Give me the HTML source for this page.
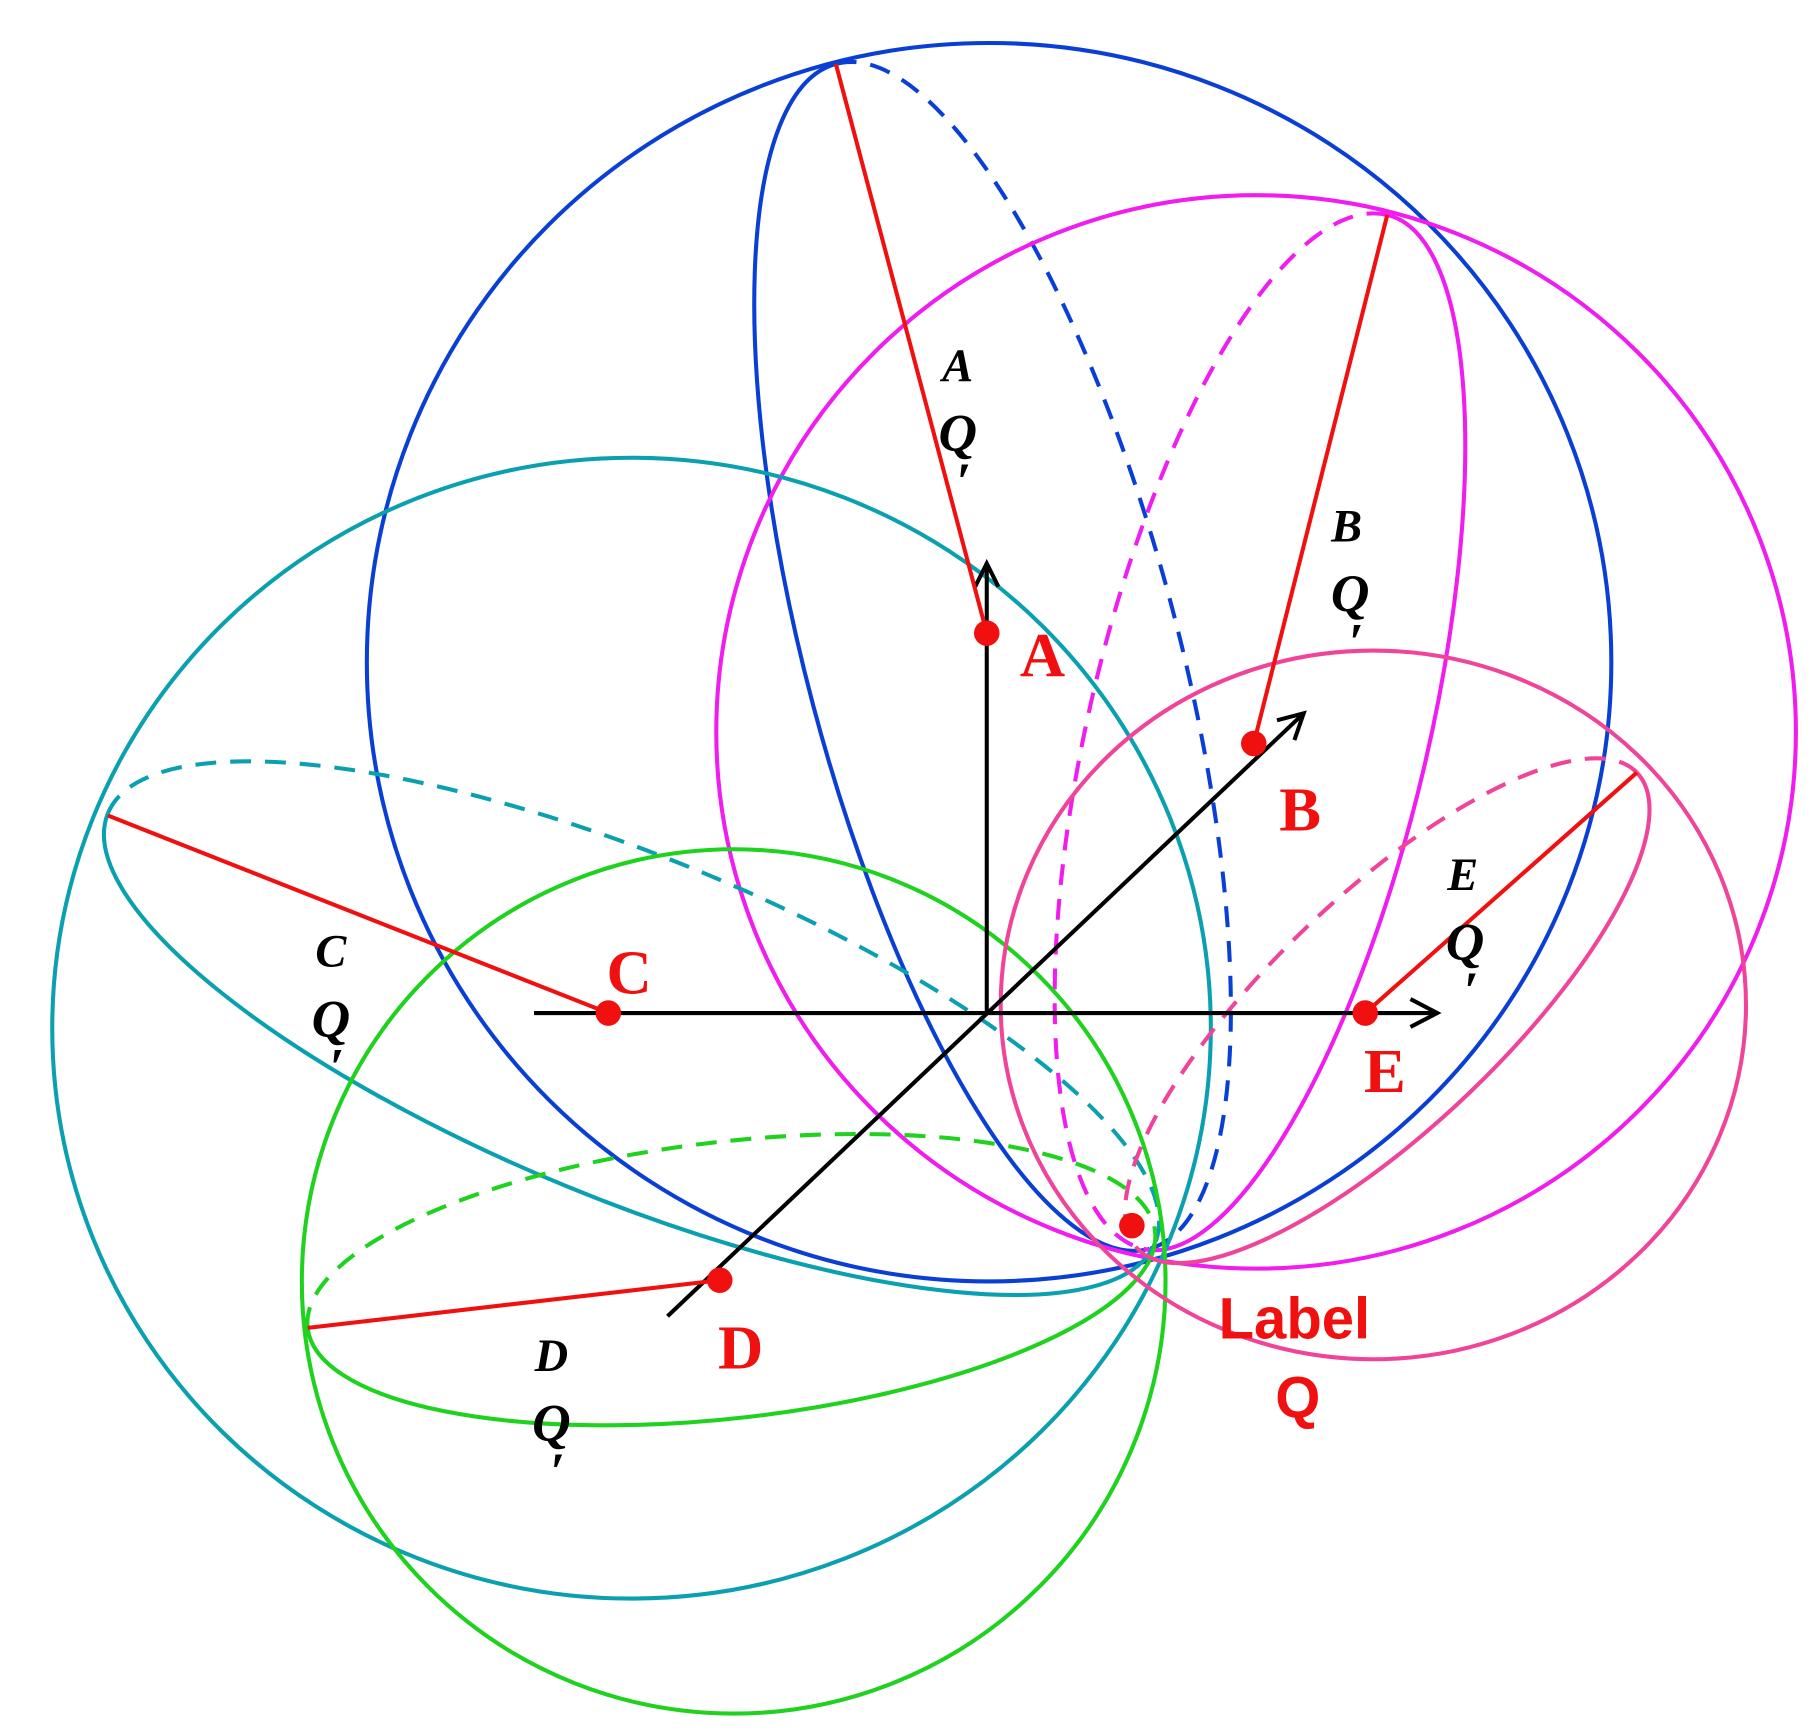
<!DOCTYPE html>
<html><head><style>html,body{margin:0;padding:0;background:#fff}svg{display:block}</style></head><body>
<svg width="1811" height="1731" viewBox="0 0 1560 1490" preserveAspectRatio="none" xmlns="http://www.w3.org/2000/svg">
<g fill="none" stroke-width="3.5">
<ellipse cx="852" cy="570" rx="536" ry="533" stroke="#0a3fd6"/>
<path d="M720 55 A527 160 75.2 0 0 990 1075" stroke="#0a3fd6"/>
<path d="M720 55 A527 160 75.2 0 1 990 1075" stroke="#0a3fd6" stroke-dasharray="18 12"/>
<ellipse cx="1082" cy="630" rx="465" ry="462" stroke="#f01cf0"/>
<path d="M1195 185 A457 140 103.3 0 1 985 1075" stroke="#f01cf0"/>
<path d="M1195 185 A457 152 103.3 0 0 985 1075" stroke="#f01cf0" stroke-dasharray="18 12"/>
<ellipse cx="544" cy="885" rx="499" ry="491" stroke="#0aa0b0"/>
<path d="M93 700 A487 147 22.3 0 0 995 1070" stroke="#0aa0b0"/>
<path d="M93 700 A487 147 22.3 0 1 995 1070" stroke="#0aa0b0" stroke-dasharray="18 12"/>
<circle cx="632" cy="1103" r="372" stroke="#1ed21e"/>
<path d="M265 1143 A367 119 -6.5 0 0 995 1060" stroke="#1ed21e"/>
<path d="M265 1143 A367 119 -6.5 0 1 995 1060" stroke="#1ed21e" stroke-dasharray="18 12"/>
<ellipse cx="1183" cy="865" rx="321" ry="305" stroke="#f0449a"/>
<path d="M1410 665 A297 100 136.4 0 1 980 1075" stroke="#f0449a"/>
<path d="M1410 665 A297 100 136.4 0 0 980 1075" stroke="#f0449a" stroke-dasharray="18 12"/>
</g>
<g stroke="#000" stroke-width="3.5" fill="none">
<line x1="850" y1="872" x2="850" y2="485"/>
<polyline points="840,505 850,485 860,505"/>
<line x1="460" y1="872" x2="1238" y2="872"/>
<polyline points="1215,860 1238,872 1215,884"/>
<line x1="575" y1="1133" x2="1123" y2="614"/>
<polyline points="1100,620 1123,614 1115,637"/>
</g>
<g stroke="#f01010" stroke-width="3.5">
<line x1="720" y1="55" x2="850" y2="545"/>
<line x1="1195" y1="185" x2="1080" y2="640"/>
<line x1="93" y1="702" x2="524" y2="872"/>
<line x1="265" y1="1143" x2="620" y2="1102"/>
<line x1="1410" y1="665" x2="1176" y2="872"/>
</g>
<g fill="#f01010">
<circle cx="850" cy="545" r="11"/><circle cx="1080" cy="640" r="11"/><circle cx="524" cy="872" r="11"/>
<circle cx="620" cy="1102" r="11"/><circle cx="1176" cy="872" r="11"/><circle cx="975" cy="1055" r="11"/>
</g>
<g fill="#f01010" font-family="Liberation Serif, serif" font-weight="bold" font-size="54" text-anchor="middle">
<text x="898" y="582">A</text><text x="1120" y="715">B</text><text x="542" y="855">C</text>
<text x="638" y="1178">D</text><text x="1193" y="940">E</text>
</g>
<g fill="#f01010" font-family="Liberation Sans, sans-serif" font-weight="bold" font-size="50" text-anchor="middle">
<text x="1115" y="1152">Label</text><text x="1118" y="1220">Q</text>
</g>
<g fill="#000" font-family="Liberation Serif, serif" font-weight="bold" font-style="italic" text-anchor="middle">
<text x="825" y="328" font-size="40">A</text><text x="825" y="388" font-size="46">Q</text><text x="830" y="430" font-size="46">′</text>
<text x="1160" y="466" font-size="40">B</text><text x="1163" y="526" font-size="46">Q</text><text x="1168" y="568" font-size="46">′</text>
<text x="285" y="832" font-size="40">C</text><text x="285" y="892" font-size="46">Q</text><text x="290" y="934" font-size="46">′</text>
<text x="475" y="1180" font-size="40">D</text><text x="475" y="1240" font-size="46">Q</text><text x="480" y="1282" font-size="46">′</text>
<text x="1260" y="766" font-size="40">E</text><text x="1262" y="826" font-size="46">Q</text><text x="1267" y="868" font-size="46">′</text>
</g>
</svg>
</body></html>
